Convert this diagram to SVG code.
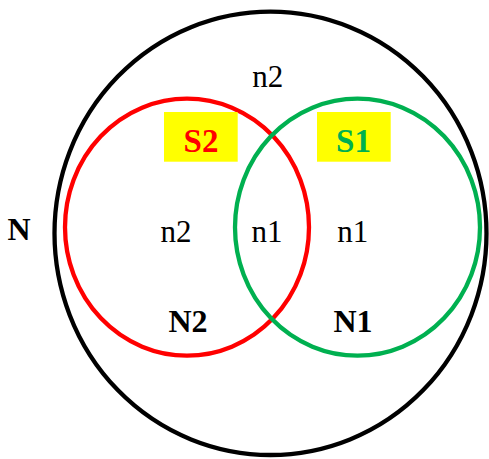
<svg xmlns="http://www.w3.org/2000/svg" width="489" height="459" viewBox="0 0 489 459">
<style>
.t{font-family:"Liberation Serif","Times New Roman",serif;font-size:31px;fill:#000;text-anchor:middle}
.b{font-weight:bold;font-size:32px}
.s{font-weight:bold;font-size:33px}
.c{fill:none;stroke-width:4.3}
</style>
<rect width="489" height="459" fill="#fff"/>
<g id="N">
<ellipse class="c" cx="270.5" cy="233.3" rx="216" ry="221.7" stroke="#000" stroke-width="4.6"/>
<text class="t b" x="19" y="240">N</text>
<text class="t" x="267.8" y="87">n2</text>
</g>
<g id="N2">
<ellipse class="c" cx="187" cy="227.2" rx="122" ry="128.5" stroke="#ff0000"/>
<text class="t" x="176" y="242">n2</text>
<text class="t b" x="188" y="332">N2</text>
</g>
<g id="N1">
<ellipse class="c" cx="357.5" cy="227.2" rx="122.5" ry="128.5" stroke="#00b050"/>
<text class="t" x="352.7" y="242">n1</text>
<text class="t b" x="353" y="332">N1</text>
</g>
<g id="intersection">
<text class="t" x="267" y="242">n1</text>
</g>
<g id="S2">
<rect x="164" y="112" width="73.7" height="49.7" fill="#ffff00"/>
<text class="t s" x="201" y="151.5" style="fill:#ff0000">S2</text>
</g>
<g id="S1">
<rect x="317" y="112" width="73.7" height="49.7" fill="#ffff00"/>
<text class="t s" x="353.5" y="151.5" style="fill:#00b050">S1</text>
</g>
<g id="connectors"/>
</svg>
